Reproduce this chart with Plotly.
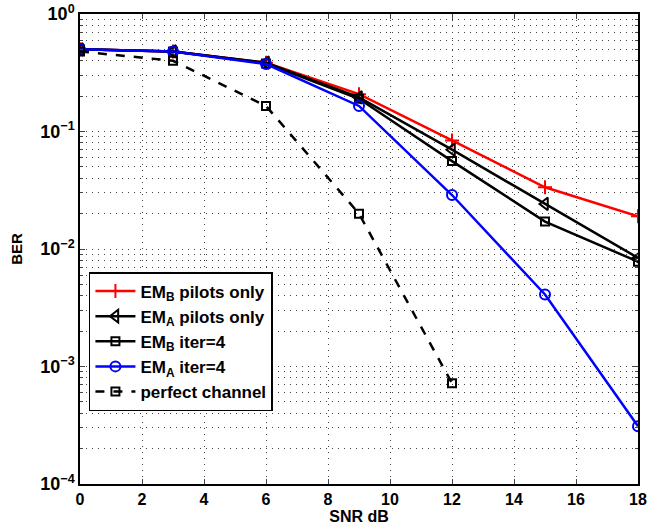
import plotly.graph_objects as go

snr = [0, 3, 6, 9, 12, 15, 18]
emb_pilots = [0.50, 0.48, 0.385, 0.208, 0.084, 0.0335, 0.019]
ema_pilots = [0.50, 0.48, 0.385, 0.195, 0.070, 0.0242, 0.0084]
emb_iter = [0.50, 0.48, 0.380, 0.190, 0.056, 0.0171, 0.0078]
ema_iter = [0.50, 0.48, 0.375, 0.165, 0.0288, 0.0041, 0.00031]
snr_perfect = [0, 3, 6, 9, 12]
perfect = [0.48, 0.40, 0.165, 0.0200, 0.00072]

names = ["EM<sub>B</sub> pilots only", "EM<sub>A</sub> pilots only",
         "EM<sub>B</sub> iter=4", "EM<sub>A</sub> iter=4", "perfect channel"]
ytickvals = [1e-4, 1e-3, 1e-2, 1e-1, 1]
yticktext = ["10<sup>−4</sup>", "10<sup>−3</sup>", "10<sup>−2</sup>", "10<sup>−1</sup>", "10<sup>0</sup>"]
xtickvals = [0, 2, 4, 6, 8, 10, 12, 14, 16, 18]

fig = go.Figure()
fig.add_trace(go.Scatter(x=snr, y=emb_pilots, name=names[0], mode="lines+markers",
                         line=dict(color="#ff0000", width=2.5),
                         marker=dict(symbol="cross-thin", size=10, line=dict(color="#ff0000", width=2))))
fig.add_trace(go.Scatter(x=snr, y=ema_pilots, name=names[1], mode="lines+markers",
                         line=dict(color="black", width=2.5),
                         marker=dict(symbol="triangle-left-open", size=11, color="black", line=dict(width=2))))
fig.add_trace(go.Scatter(x=snr, y=emb_iter, name=names[2], mode="lines+markers",
                         line=dict(color="black", width=2.5),
                         marker=dict(symbol="square-open", size=8, color="black", line=dict(width=2))))
fig.add_trace(go.Scatter(x=snr, y=ema_iter, name=names[3], mode="lines+markers",
                         line=dict(color="#0000ff", width=2.5),
                         marker=dict(symbol="circle-open", size=10, color="#0000ff", line=dict(width=2))))
fig.add_trace(go.Scatter(x=snr_perfect, y=perfect, name=names[4], mode="lines+markers",
                         line=dict(color="black", width=2.5, dash="dash"),
                         marker=dict(symbol="square-open", size=8, color="black", line=dict(width=2))))

fam = "Liberation Sans, Arial, sans-serif"
grid = dict(gridcolor="#444444", griddash="1px,5px", gridwidth=1)
fig.update_layout(
    width=648, height=529,
    margin=dict(l=80, r=10, t=14, b=45),
    paper_bgcolor="white", plot_bgcolor="white",
    font=dict(family=fam, size=15, color="black"),
    showlegend=True,
    legend=dict(x=0.016, y=0.451, xanchor="left", yanchor="top",
                bordercolor="black", borderwidth=1.5, bgcolor="white",
                font=dict(family=fam, size=17, color="black", weight="bold"),
                tracegroupgap=0, itemwidth=40),
    xaxis=dict(range=[0, 18], tickvals=xtickvals, ticks="inside", ticklen=5,
               showline=True, linecolor="black", linewidth=1.5, mirror="ticks",
               showgrid=True, zeroline=False, automargin=False,
               tickfont=dict(size=16, weight="bold"),
               title=dict(text="SNR dB", font=dict(size=16, weight="bold"), standoff=0),
               **grid),
    yaxis=dict(type="log", range=[-4, 0], tickvals=ytickvals, ticktext=yticktext,
               ticks="inside", ticklen=5,
               showline=True, linecolor="black", linewidth=1.5, mirror="ticks",
               showgrid=True, zeroline=False, automargin=False,
               tickfont=dict(size=18, weight="bold"),
               minor=dict(ticks="inside", ticklen=3, showgrid=True, dtick="D1", **grid),
               title=dict(text="BER", font=dict(size=15, weight="bold"), standoff=14),
               **grid),
)
fig.write_html("out.html", config={"displayModeBar": False},
               post_script="document.body.style.margin='0';")
